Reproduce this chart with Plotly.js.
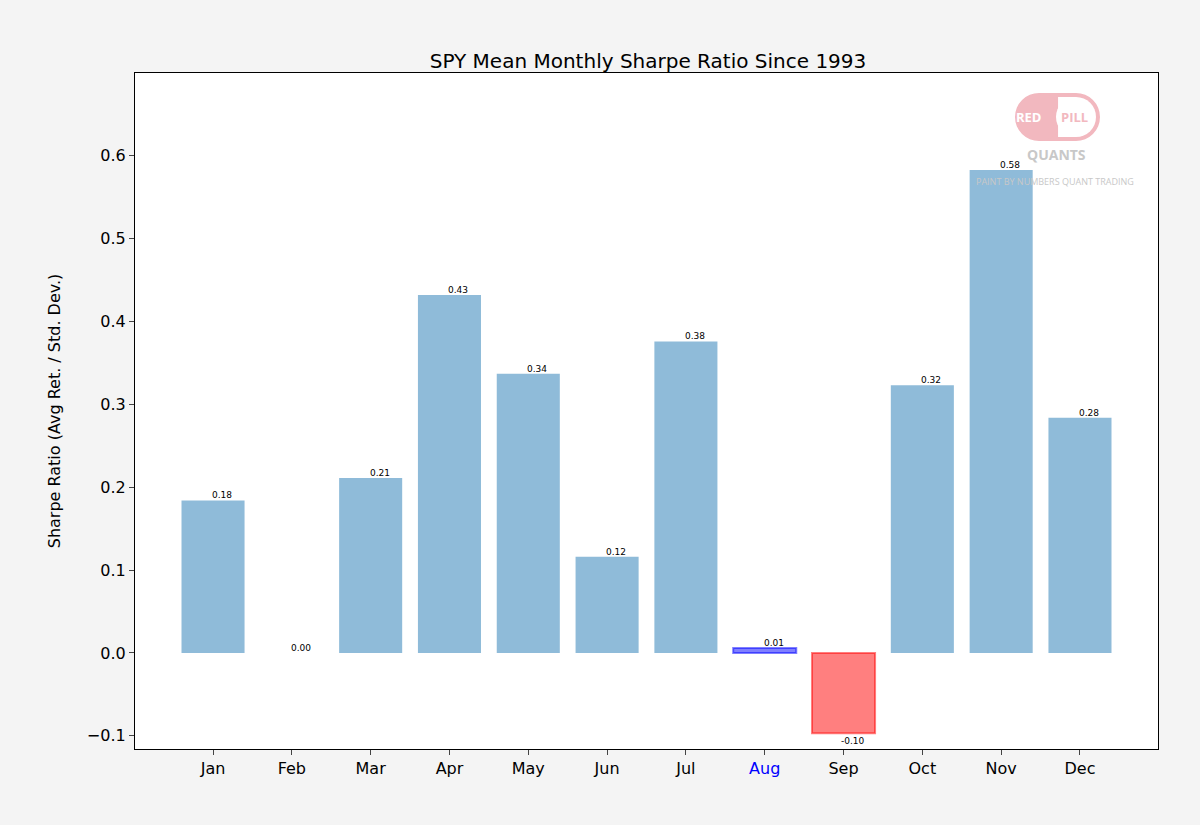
<!DOCTYPE html>
<html>
<head>
<script src="https://cdn.plot.ly/plotly-3.0.1.min.js"></script>
<style>body{margin:0;background:#f4f4f4}</style>
</head>
<body>
<div id="chart" style="width:1200px;height:825px"></div>
<script>
// monthly mean sharpe ratios
const months = ['Jan', 'Feb', 'Mar', 'Apr', 'May', 'Jun', 'Jul', 'Aug', 'Sep', 'Oct', 'Nov', 'Dec'];
const sharpe = [0.184, 0.0, 0.211, 0.432, 0.337, 0.116, 0.376, 0.006, -0.097, 0.323, 0.583, 0.284];
const highlightMonth = 'Aug';

const fills = months.map((m, i) => m === highlightMonth ? 'rgba(0,0,255,0.5)' : (sharpe[i] < 0 ? 'rgba(255,0,0,0.5)' : 'rgba(31,119,180,0.5)'));
const edges = months.map((m, i) => m === highlightMonth ? 'rgba(0,0,255,0.5)' : (sharpe[i] < 0 ? 'rgba(255,0,0,0.5)' : 'rgba(0,0,0,0)'));

const trace = {
    x: months.map((m, i) => i),
    y: sharpe,
    type: 'bar',
    width: 0.8,
    marker: { color: fills, line: { color: edges, width: 2 } },
    hoverinfo: 'none'
};

const labels = sharpe.map((v, i) => ({
    x: i, y: v, xref: 'x', yref: 'y',
    text: v.toFixed(2),
    showarrow: false,
    xanchor: 'center', xshift: 9,
    yanchor: v < 0 ? 'top' : 'bottom',
    yshift: v < 0 ? -1 : -2,
    font: { size: 9, color: '#000', family: 'DejaVu Sans' }
}));

// logo
const logoFont = 'Open Sans';
labels.push(
    { xref: 'paper', yref: 'paper', x: 0.8735, y: 0.935, xanchor: 'center', yanchor: 'middle', text: '<b>RED</b>', showarrow: false,
      font: { size: 13, color: '#fff', family: logoFont } },
    { xref: 'paper', yref: 'paper', x: 0.9185, y: 0.935, xanchor: 'center', yanchor: 'middle', text: '<b>PILL</b>', showarrow: false,
      font: { size: 13, color: '#f2b8bf', family: logoFont } },
    { xref: 'paper', yref: 'paper', x: 0.901, y: 0.879, xanchor: 'center', yanchor: 'middle', text: '<b>QUANTS</b>', showarrow: false,
      font: { size: 14, color: '#c8c8c8', family: logoFont } },
    { xref: 'paper', yref: 'paper', x: 0.899, y: 0.839, xanchor: 'center', yanchor: 'middle', text: 'PAINT BY NUMBERS QUANT TRADING', showarrow: false,
      font: { size: 9, color: '#c8c8c8', family: logoFont } }
);

const pink = '#f2b8bf';
const logoShapes = [
    { type: 'rect', x0: 0.8837, x1: 0.9198, y0: 0.8994, y1: 0.9704, fillcolor: pink },
    { type: 'circle', x0: 0.8602, x1: 0.9072, y0: 0.8994, y1: 0.9704, fillcolor: pink },
    { type: 'circle', x0: 0.8963, x1: 0.9433, y0: 0.8994, y1: 0.9704, fillcolor: pink },
    { type: 'rect', x0: 0.9023, x1: 0.9198, y0: 0.9053, y1: 0.9645, fillcolor: '#ffffff' },
    { type: 'circle', x0: 0.9003, x1: 0.9394, y0: 0.9053, y1: 0.9645, fillcolor: '#ffffff' }
].map(s => Object.assign({ xref: 'paper', yref: 'paper', line: { width: 0 }, layer: 'above' }, s));

const layout = {
    width: 1200, height: 825,
    paper_bgcolor: '#f4f4f4',
    plot_bgcolor: '#ffffff',
    margin: { l: 135, r: 42, t: 73, b: 76 },
    font: { family: 'DejaVu Sans', size: 16, color: '#000' },
    title: { text: 'SPY Mean Monthly Sharpe Ratio Since 1993', font: { size: 20 }, x: 0.54, y: 0.935 },
    showlegend: false,
    xaxis: {
        range: [-0.99, 11.99],
        tickvals: months.map((m, i) => i),
        ticktext: months.map(m => m === highlightMonth ? '<span style="color:blue">' + m + '</span>' : m),
        ticks: 'outside', ticklen: 5, showgrid: false, zeroline: false,
        showline: true, mirror: true, linecolor: '#000', linewidth: 1.2
    },
    yaxis: {
        range: [-0.116, 0.700],
        tickvals: [-0.1, 0, 0.1, 0.2, 0.3, 0.4, 0.5, 0.6],
        ticktext: ['\u22120.1', '0.0', '0.1', '0.2', '0.3', '0.4', '0.5', '0.6'],
        ticks: 'outside', ticklen: 5, showgrid: false, zeroline: false,
        showline: true, mirror: true, linecolor: '#000', linewidth: 1.2,
        title: { text: 'Sharpe Ratio (Avg Ret. / Std. Dev.)', font: { size: 16 }, standoff: 22 }
    },
    shapes: logoShapes,
    annotations: labels
};

Plotly.newPlot('chart', [trace], layout, { displayModeBar: false });
</script>
</body>
</html>
